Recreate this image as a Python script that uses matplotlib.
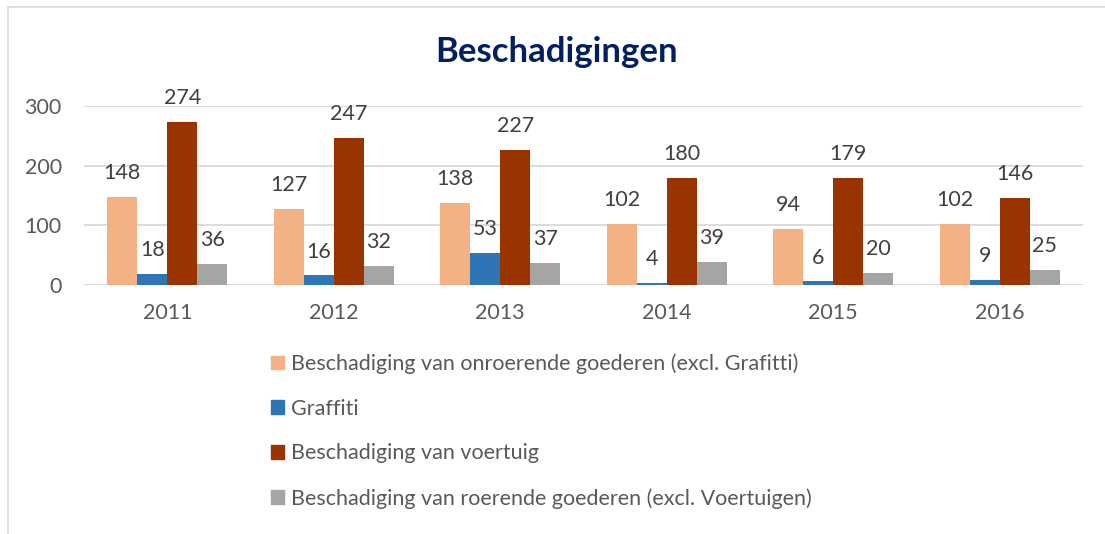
import numpy as np
import matplotlib
matplotlib.use('Agg')
import matplotlib.pyplot as plt
from matplotlib.patches import Rectangle
from matplotlib.lines import Line2D

plt.rcParams['font.family'] = ['Lato', 'DejaVu Sans']

# data
jaren = ['2011', '2012', '2013', '2014', '2015', '2016']
series_namen = ['Beschadiging van onroerende goederen (excl. Grafitti)',
                'Graffiti',
                'Beschadiging van voertuig',
                'Beschadiging van roerende goederen (excl. Voertuigen)']
onroerend = [148, 127, 138, 102, 94, 102]
graffiti = [18, 16, 53, 4, 6, 9]
voertuig = [274, 247, 227, 180, 179, 146]
roerend = [36, 32, 37, 39, 20, 25]
kleuren = ['#F4B183', '#2E75B6', '#993300', '#A5A5A5']

fig = plt.figure(figsize=(11.05, 5.34), dpi=100)
ax = fig.add_axes([84 / 1105, 1 - 285 / 534, (1083 - 84) / 1105, (285 - 106) / 534])

x = np.arange(len(jaren))
w = 0.18
alle = [onroerend, graffiti, voertuig, roerend]
for i, (vals, kleur) in enumerate(zip(alle, kleuren)):
    pos = x + (i - 1.5) * w
    ax.bar(pos, vals, width=w, color=kleur, zorder=3)
    for p, v in zip(pos, vals):
        ax.annotate(str(v), (p, v), xytext=(0, 10), textcoords='offset points',
                    ha='center', va='bottom', fontsize=15.5, color='#404040',
                    annotation_clip=False)

ax.set_xlim(-0.5, len(jaren) - 0.5)
ax.set_ylim(0, 300)
ax.set_yticks([0, 100, 200, 300])
ax.set_xticks(x)
ax.set_xticklabels(jaren)
ax.tick_params(axis='both', length=0, labelsize=15.5, labelcolor='#595959')
ax.tick_params(axis='x', pad=13)
ax.tick_params(axis='y', pad=16)
ax.grid(axis='y', color='#D9D9D9', linewidth=1.3, zorder=0)
for s in ax.spines.values():
    s.set_visible(False)

fig.text(557 / 1105, 1 - 52 / 534, 'Beschadigingen', ha='center', va='center',
         fontsize=25, fontweight='bold', color='#002060')

# legenda
handles = [Rectangle((0, 0), 1, 1, color=k) for k in kleuren]
fig.legend(handles, series_namen, loc='upper left',
           bbox_to_anchor=(252 / 1105, 1 - 334 / 534), frameon=False,
           fontsize=15.5, labelcolor='#595959', handlelength=0.6, handleheight=0.6,
           handletextpad=0.3, labelspacing=1.15)

# rand van de grafiek
fig.add_artist(Line2D([8 / 1105, 1], [1 - 7 / 534] * 2, color='#D9D9D9', lw=1.2))
fig.add_artist(Line2D([8 / 1105] * 2, [0, 1 - 7 / 534], color='#D9D9D9', lw=1.2))

fig.savefig('out.png', dpi=100)
